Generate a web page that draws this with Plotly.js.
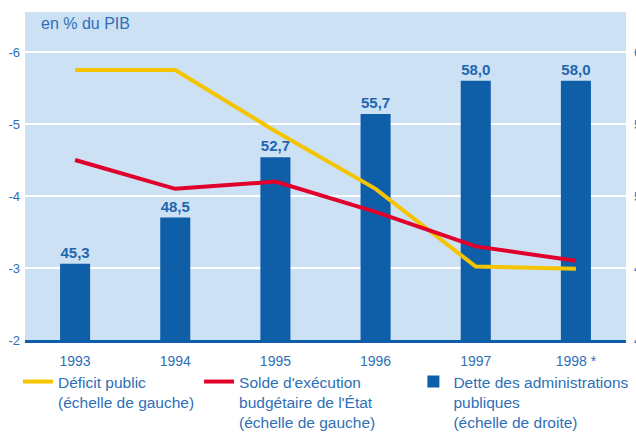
<!DOCTYPE html>
<html>
<head>
<meta charset="utf-8">
<script src="https://cdn.plot.ly/plotly-3.0.1.min.js"></script>
<style>html,body{margin:0;padding:0;background:#fff;}#chart{width:636px;height:435px;}</style>
</head>
<body>
<div id="chart"></div>
<script>
var years = ['1993', '1994', '1995', '1996', '1997', '1998 *'];
var deficitPublic = [-5.75, -5.75, -4.9, -4.1, -3.02, -2.99];
var soldeEtat = [-4.5, -4.1, -4.2, -3.78, -3.3, -3.1];
var detteAPU = [45.3, 48.5, 52.7, 55.7, 58.0, 58.0];
var leftTicks = [-2, -3, -4, -5, -6];
var rightTicks = [40, 45, 50, 55, 60];

var FONT = 'Liberation Sans, Arial, sans-serif';
var TXT = '#2f6fb6';

var data = [
  {
    type: 'bar', x: years, y: detteAPU, yaxis: 'y',
    name: 'Dette des administrations<br>publiques<br>(échelle de droite)',
    marker: {color: '#0f5fa8'}, width: 0.3,
    text: detteAPU, texttemplate: '%{y:.1f}', textposition: 'outside',
    textfont: {family: FONT, size: 15, color: '#1f66b0', weight: 'bold'},
    cliponaxis: false, legend: 'legend3', hoverinfo: 'none'
  },
  {
    type: 'scatter', mode: 'lines', x: years, y: deficitPublic, yaxis: 'y2',
    name: 'Déficit public<br>(échelle de gauche)',
    line: {color: '#f5c400', width: 4}, legend: 'legend', hoverinfo: 'none'
  },
  {
    type: 'scatter', mode: 'lines', x: years, y: soldeEtat, yaxis: 'y2',
    name: "Solde d'exécution<br>budgétaire de l'État<br>(échelle de gauche)",
    line: {color: '#e0002b', width: 4}, legend: 'legend2', hoverinfo: 'none'
  }
];

function leg(x) {
  return {
    orientation: 'v', xref: 'container', yref: 'container',
    x: x, xanchor: 'left', y: 0.161, yanchor: 'top',
    valign: 'top', bgcolor: 'rgba(0,0,0,0)',
    font: {family: FONT, size: 15.5, color: TXT}
  };
}

var layout = {
  width: 636, height: 435,
  showlegend: true,
  margin: {l: 25, r: 10, t: 12, b: 95, autoexpand: false},
  paper_bgcolor: '#ffffff', plot_bgcolor: '#cce1f4',
  separators: ', ',
  font: {family: FONT, color: TXT},
  xaxis: {
    type: 'category', range: [-0.5, 5.5],
    showline: true, linecolor: '#0f5fa8', linewidth: 3,
    ticks: '', showgrid: false, zeroline: false, ticklabelstandoff: 6,
    tickfont: {family: FONT, size: 14, color: TXT}
  },
  yaxis: {
    side: 'right', range: [40, 62.78],
    tickvals: rightTicks, ticktext: rightTicks.map(String),
    showgrid: true, gridcolor: '#ffffff', gridwidth: 1.5,
    zeroline: false, ticks: '', ticklabelstandoff: 7,
    tickfont: {family: FONT, size: 13, color: TXT}
  },
  yaxis2: {
    overlaying: 'y', side: 'left', range: [-2, -6.556],
    tickvals: leftTicks, ticktext: leftTicks.map(String),
    showgrid: false, zeroline: false, ticks: '', ticklabelstandoff: 4,
    tickfont: {family: FONT, size: 13, color: TXT}
  },
  legend: leg(0.0283),
  legend2: leg(0.313),
  legend3: leg(0.650),
  annotations: [{
    text: 'en % du PIB', xref: 'paper', yref: 'paper',
    x: 0.024, y: 0.997, xanchor: 'left', yanchor: 'top', showarrow: false,
    font: {family: FONT, size: 16, color: TXT}
  }]
};

Plotly.newPlot('chart', data, layout, {displayModeBar: false, staticPlot: true});
</script>
</body>
</html>
